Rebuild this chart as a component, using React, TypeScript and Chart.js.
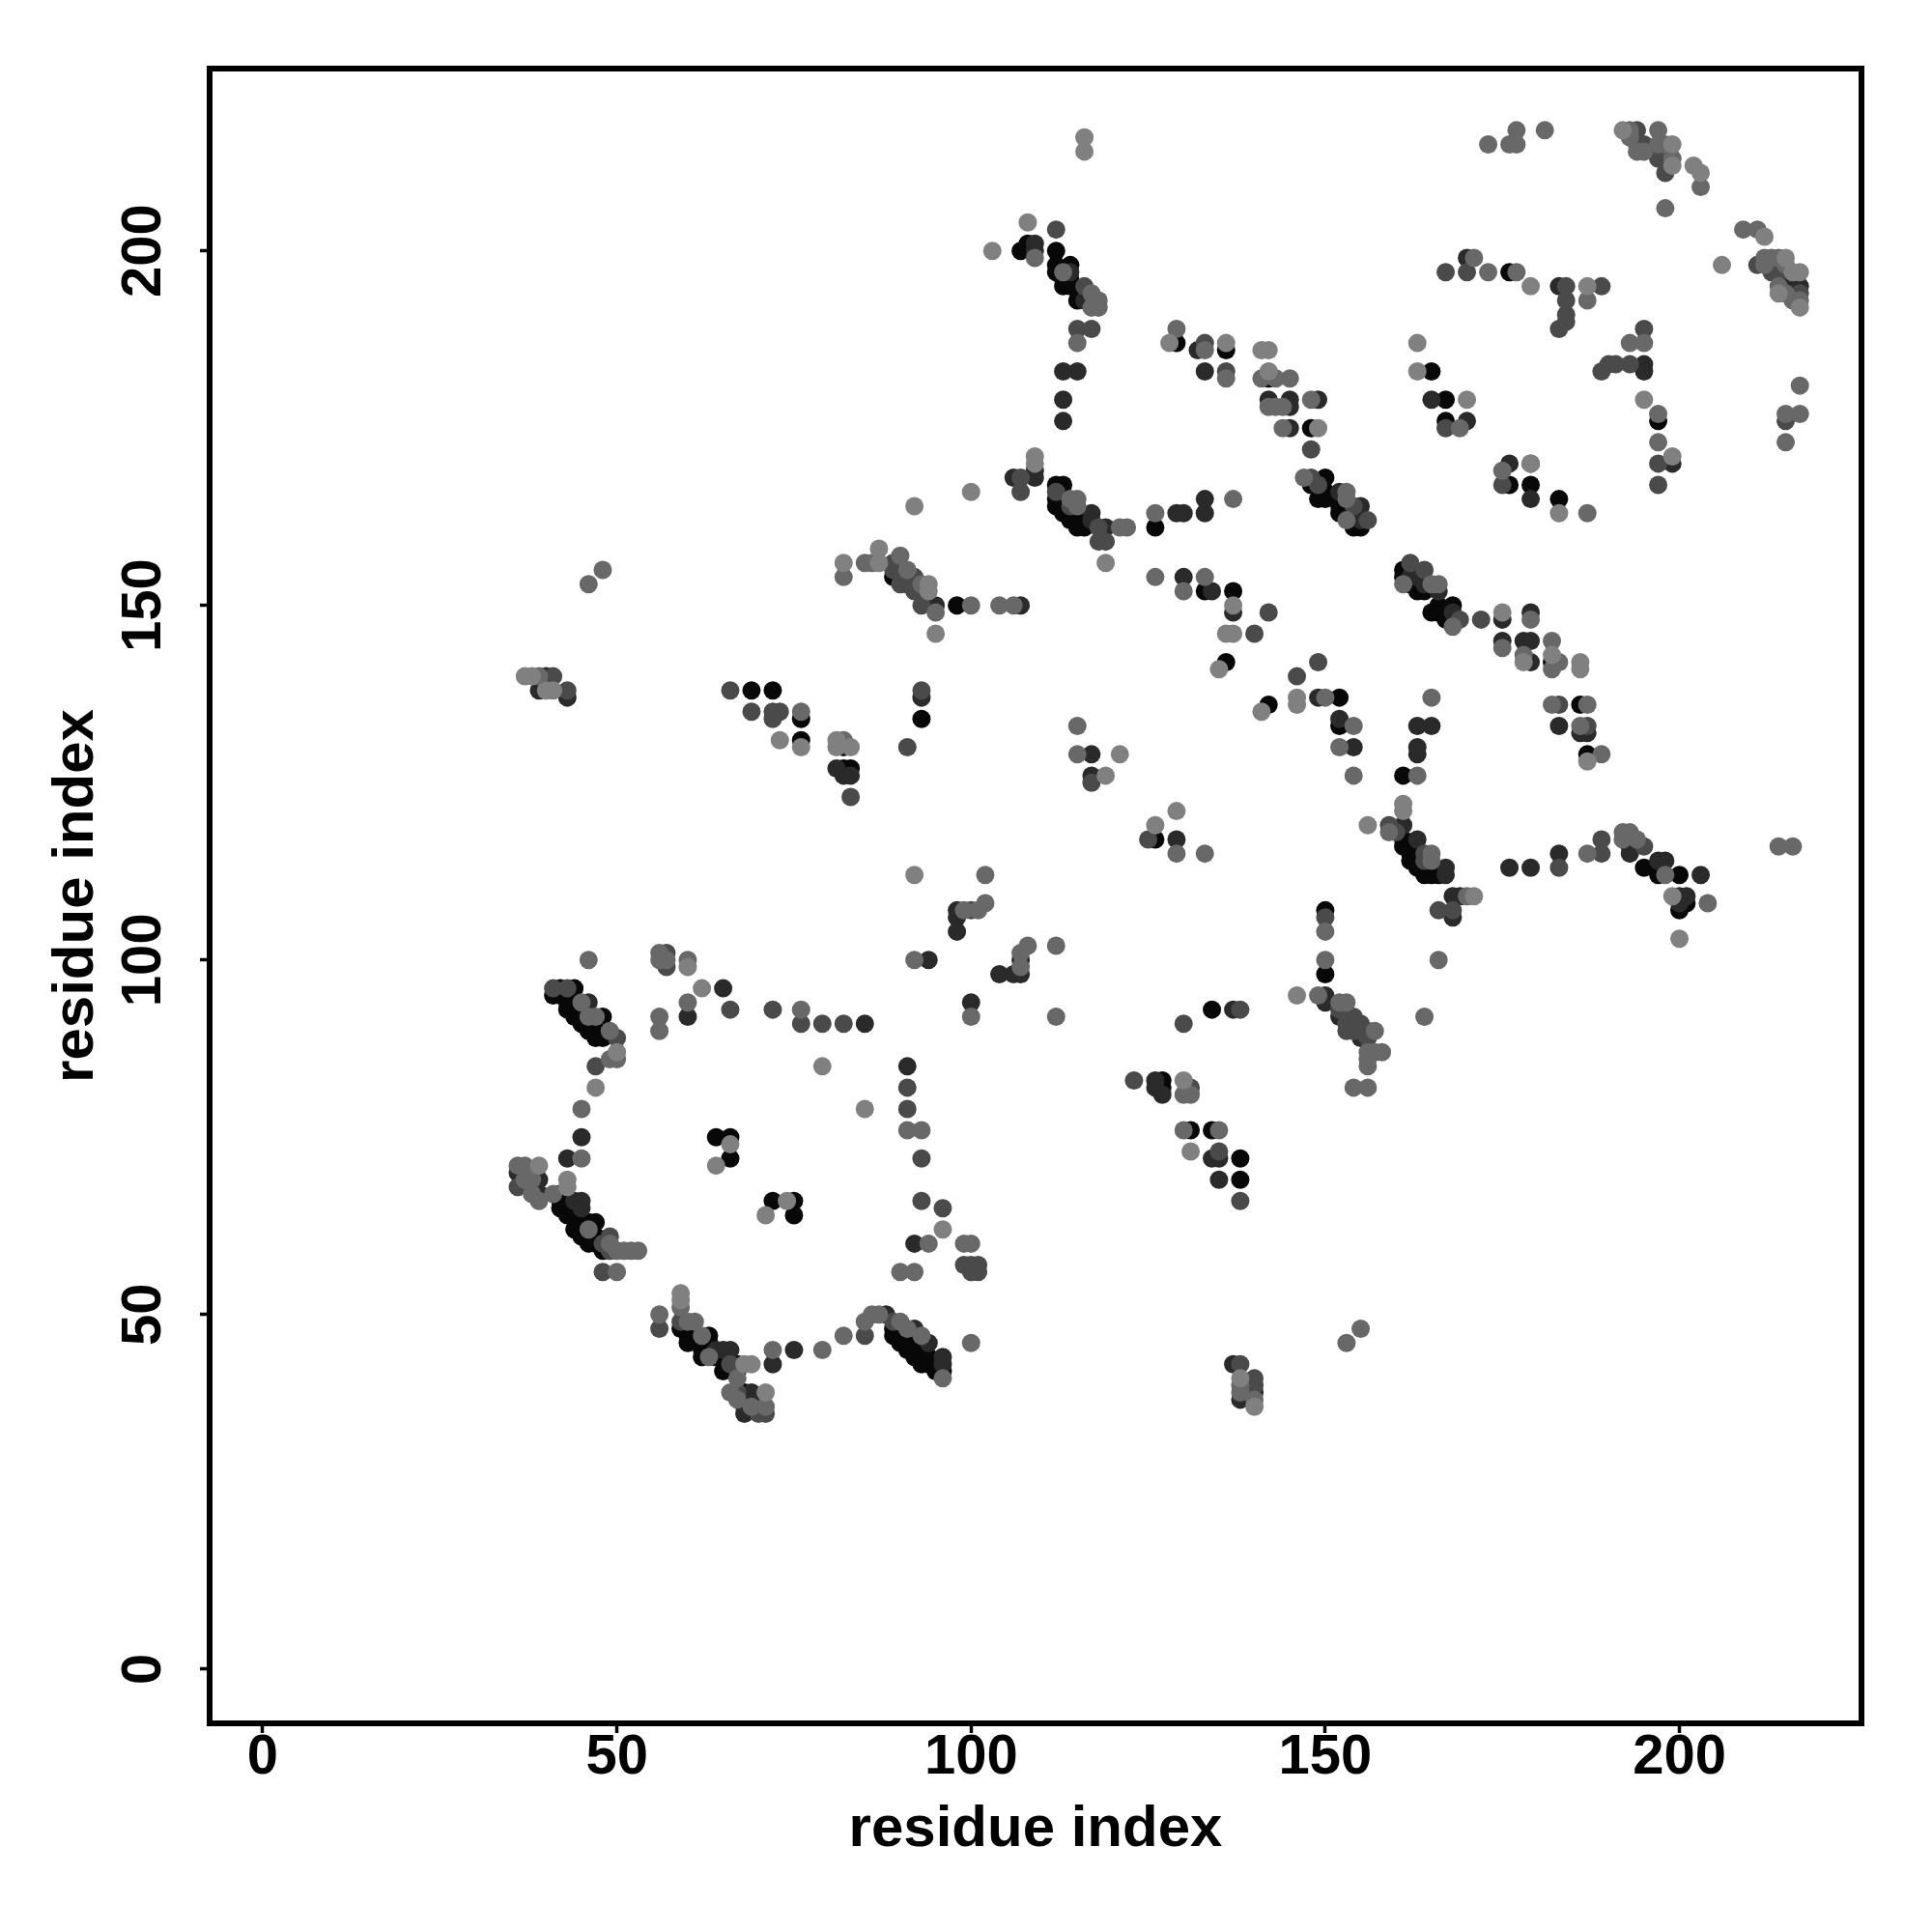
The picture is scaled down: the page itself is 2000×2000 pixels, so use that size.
import React, { useEffect, useRef } from "react";
import { Chart, registerables } from "chart.js";

Chart.register(...registerables);

type P = [number, number];

const tickValues = [0, 50, 100, 150, 200];
const axisTitle = "residue index";

const shadeLightest: P[] = [[39,71],[43,69],[43,68],[59,53],[59,52],[68,43],[69,43],[71,39],[64,71],[71,64],[74,66],[66,74],[85,79],[96,62],[50,87],[47,82],[62,96],[60,99],[79,85],[92,112],[146,95],[138,41],[140,37],[131,73],[130,83],[109,170],[109,171],[119,156],[136,146],[137,146],[135,141],[141,135],[146,137],[146,136],[137,150],[149,175],[121,129],[119,126],[129,121],[126,119],[100,166],[175,149],[178,142],[182,143],[186,142],[186,141],[187,128],[161,122],[161,121],[156,119],[171,109],[199,109],[200,103],[103,200],[108,204],[116,216],[116,214],[128,187],[136,187],[141,186],[142,186],[142,183],[163,187],[163,183],[170,179],[179,195],[187,195],[192,217],[199,215],[199,212],[202,212],[203,211],[212,202],[206,198],[215,199],[216,197],[217,197],[214,194],[217,192],[195,179],[199,171],[179,170],[183,163],[37,140],[38,140],[40,138],[41,138],[73,131],[76,130],[81,131],[81,130],[83,130],[82,156],[87,156],[87,158],[94,153],[94,152],[95,146],[92,164]];

const shadeLight: P[] = [[45,72],[36,71],[37,71],[38,69],[37,69],[41,67],[38,67],[39,66],[46,62],[50,59],[51,59],[52,59],[53,59],[49,60],[50,56],[59,51],[56,50],[61,49],[60,49],[62,47],[63,44],[72,45],[79,45],[67,41],[66,39],[67,38],[69,37],[71,37],[82,47],[85,49],[86,50],[87,50],[91,48],[93,47],[90,49],[96,41],[91,76],[93,76],[90,56],[92,56],[94,60],[99,60],[100,60],[46,100],[56,101],[56,100],[57,100],[60,100],[60,94],[56,92],[56,90],[76,93],[45,94],[47,92],[46,92],[49,90],[49,86],[50,86],[45,79],[92,100],[99,107],[100,92],[100,46],[102,112],[102,108],[101,107],[108,102],[107,101],[107,99],[112,102],[112,92],[131,81],[130,81],[130,76],[135,76],[149,95],[150,100],[150,104],[152,94],[153,94],[157,90],[156,87],[157,87],[158,87],[156,86],[156,85],[154,82],[156,82],[153,46],[155,48],[138,39],[138,40],[140,38],[114,165],[115,165],[115,164],[121,161],[122,161],[126,163],[137,165],[100,150],[104,150],[106,150],[126,154],[133,154],[130,152],[165,153],[166,153],[153,166],[153,165],[153,162],[147,168],[115,133],[115,129],[129,115],[133,115],[150,137],[154,133],[152,130],[154,126],[165,137],[163,126],[161,153],[168,147],[175,144],[178,143],[182,145],[182,141],[183,142],[179,148],[182,136],[186,133],[187,136],[189,129],[159,118],[165,115],[165,114],[170,109],[187,115],[192,118],[193,118],[192,117],[194,117],[198,112],[204,108],[109,199],[113,197],[117,194],[118,193],[118,192],[117,192],[115,187],[129,189],[133,186],[136,182],[141,182],[143,182],[145,182],[142,178],[143,178],[144,178],[144,175],[148,179],[177,217],[181,217],[173,215],[176,215],[177,215],[193,217],[193,216],[197,217],[194,214],[195,214],[197,215],[198,215],[199,213],[203,209],[198,206],[209,203],[211,203],[212,199],[213,199],[214,199],[212,198],[215,198],[214,195],[215,194],[216,193],[217,193],[217,181],[215,177],[217,177],[215,173],[171,199],[173,197],[177,197],[187,193],[193,187],[195,187],[197,177],[197,173],[169,175],[175,169],[187,163],[164,92],[166,100],[214,116],[216,116],[39,140],[76,135],[82,131],[85,156],[86,156],[90,157],[91,155],[93,153],[95,149],[82,154],[46,153],[48,155]];

const shadeMid: P[] = [[36,68],[48,56],[49,61],[49,59],[48,60],[59,49],[56,48],[66,43],[67,39],[70,36],[71,36],[85,47],[89,49],[93,72],[93,66],[96,65],[91,79],[91,82],[83,123],[41,96],[43,96],[57,101],[57,99],[66,93],[72,93],[76,91],[79,91],[82,91],[50,89],[47,85],[99,57],[100,57],[101,57],[100,56],[101,56],[100,107],[123,83],[130,91],[138,93],[131,82],[135,73],[138,66],[138,43],[140,41],[140,40],[150,106],[152,93],[153,91],[154,92],[155,91],[154,90],[155,90],[156,90],[156,89],[153,90],[112,166],[114,164],[118,161],[118,159],[119,159],[107,168],[107,166],[142,149],[140,146],[149,142],[146,140],[117,125],[125,117],[148,168],[149,167],[154,164],[156,162],[162,156],[164,155],[169,148],[172,148],[183,136],[187,133],[159,119],[160,118],[164,115],[164,114],[168,107],[166,107],[183,113],[189,117],[189,115],[195,116],[112,203],[116,195],[115,189],[117,189],[133,187],[136,183],[148,172],[167,175],[167,197],[194,215],[195,215],[197,213],[198,213],[198,211],[194,217],[211,198],[213,197],[214,197],[217,194],[215,176],[170,197],[184,195],[184,193],[184,191],[184,190],[183,189],[189,195],[195,189],[189,183],[190,184],[191,184],[193,184],[197,170],[197,167],[175,167],[66,138],[69,135],[72,135],[73,135],[72,134],[93,138],[91,130],[89,156],[89,155],[90,153],[91,153],[92,154],[92,152],[93,150],[41,140],[43,138]];

const shadeDark: P[] = [[43,72],[45,75],[36,70],[37,70],[39,69],[39,67],[44,66],[45,66],[45,65],[64,45],[65,45],[66,45],[69,39],[68,38],[68,37],[68,36],[70,37],[72,43],[75,45],[88,50],[92,48],[94,46],[96,44],[96,43],[91,85],[92,60],[65,96],[85,91],[46,94],[60,92],[98,107],[98,106],[98,104],[94,100],[100,94],[104,98],[106,98],[107,98],[107,100],[107,150],[126,83],[126,82],[127,81],[137,93],[137,43],[134,72],[135,72],[135,69],[138,38],[140,39],[150,95],[150,94],[152,92],[155,89],[109,168],[109,169],[106,168],[117,163],[117,162],[119,161],[129,163],[130,163],[133,165],[133,163],[130,154],[134,152],[137,149],[149,137],[152,134],[154,130],[163,133],[165,133],[163,130],[163,129],[117,129],[117,126],[129,117],[152,166],[155,164],[155,162],[162,154],[163,154],[164,153],[166,152],[168,149],[175,148],[179,149],[175,145],[178,145],[179,145],[179,142],[183,133],[186,132],[187,132],[161,119],[163,117],[167,113],[167,112],[168,109],[169,109],[168,106],[176,113],[179,113],[183,115],[197,114],[198,114],[203,112],[200,109],[201,109],[200,108],[193,115],[109,201],[109,200],[114,197],[116,193],[113,183],[115,183],[113,179],[113,176],[132,186],[133,183],[142,179],[145,179],[145,178],[149,179],[145,175],[165,179],[170,199],[183,195],[195,184],[195,183],[170,176],[176,170],[179,170],[179,165],[199,170],[215,195],[216,195],[217,195],[40,140],[39,138],[43,137],[81,127],[82,126],[83,126],[93,137],[95,150]];

const shadeBlack: P[] = [[42,67],[42,65],[42,66],[43,66],[44,65],[43,64],[44,64],[44,62],[45,63],[47,63],[46,63],[46,60],[45,61],[47,61],[47,60],[48,59],[59,48],[60,47],[60,46],[63,47],[63,46],[62,45],[62,44],[64,44],[65,44],[65,42],[67,43],[67,42],[68,39],[89,47],[89,48],[91,45],[90,46],[90,47],[91,46],[92,45],[92,44],[93,44],[93,43],[94,44],[94,43],[95,42],[95,43],[96,42],[64,75],[66,75],[66,72],[72,66],[75,66],[75,64],[42,96],[44,96],[41,95],[42,95],[43,93],[43,94],[45,91],[44,92],[47,89],[46,90],[48,89],[48,92],[44,93],[45,92],[46,91],[47,90],[127,83],[127,82],[134,93],[138,72],[138,69],[131,76],[134,76],[150,98],[150,107],[112,167],[112,165],[112,164],[113,167],[113,163],[114,162],[116,161],[115,162],[115,161],[126,161],[133,152],[137,152],[152,137],[152,133],[161,126],[126,117],[142,136],[136,142],[150,168],[148,167],[150,166],[149,165],[150,165],[152,164],[152,163],[154,163],[154,161],[155,161],[161,155],[161,154],[162,153],[163,152],[164,152],[165,149],[166,150],[166,149],[167,149],[168,150],[167,148],[162,116],[161,116],[161,117],[162,115],[162,114],[163,115],[163,114],[163,113],[164,113],[164,112],[165,112],[166,112],[186,136],[182,142],[187,129],[193,116],[195,113],[197,112],[200,112],[201,108],[200,107],[107,200],[108,201],[112,200],[112,198],[112,197],[114,198],[113,195],[114,195],[115,193],[113,196],[114,196],[129,187],[136,186],[142,182],[167,179],[167,176],[148,175],[165,183],[176,197],[197,176],[176,167],[179,167],[183,165],[69,138],[72,138],[76,134],[76,131],[82,130],[82,127],[83,127],[98,150],[93,134],[89,154]];

const toPoints = (list: P[]) => list.map(([x, y]) => ({ x, y }));

const frame = {
  id: "frame",
  afterDraw(chart: any) {
    const { ctx, chartArea: a } = chart;
    ctx.save();
    ctx.strokeStyle = "#000";
    ctx.lineWidth = 6;
    ctx.strokeRect(a.left, a.top, a.right - a.left, a.bottom - a.top);
    ctx.restore();
  },
};

export default function App() {
  const ref = useRef<HTMLCanvasElement>(null);
  useEffect(() => {
    const mk = (data: P[], color: string) => ({
      data: toPoints(data),
      backgroundColor: color,
      borderWidth: 0,
      pointRadius: 9.5,
      pointHoverRadius: 9.5,
      showLine: false,
    });
    const font = { family: "Liberation Sans", weight: "bold" as const, size: 58, lineHeight: 1 };
    const common = {
      type: "linear" as const,
      afterBuildTicks: (s: any) => {
        s.ticks = tickValues.map((value) => ({ value }));
      },
      grid: { drawOnChartArea: false, drawTicks: true, tickLength: 10, tickWidth: 3.5, tickColor: "#000" },
      border: { display: false },
    };
    const chart = new Chart(ref.current!, {
      type: "scatter",
      data: {
        datasets: [
          mk(shadeLightest, "#808080"),
          mk(shadeLight, "#686868"),
          mk(shadeMid, "#4a4a4a"),
          mk(shadeDark, "#2a2a2a"),
          mk(shadeBlack, "#080808"),
        ],
      },
      options: {
        animation: false,
        responsive: false,
        layout: { padding: { top: 71, right: 73, left: 0, bottom: 0 } },
        plugins: { legend: { display: false }, tooltip: { enabled: false } },
        scales: {
          x: {
            ...common,
            min: -7.5,
            max: 225.7,
            afterFit: (s: any) => {
              s.height = 216;
            },
            ticks: { color: "#000", font, padding: -3, maxRotation: 0, minRotation: 0, autoSkip: false },
            title: {
              display: true,
              text: axisTitle,
              color: "#000",
              font: { ...font, size: 60 },
              padding: { top: 0, bottom: 76 },
            },
          },
          y: {
            ...common,
            min: -7.65,
            max: 225.7,
            afterFit: (s: any) => {
              s.width = 217;
            },
            ticks: { color: "#000", font, padding: 9, minRotation: 90, maxRotation: 90, crossAlign: "center", autoSkip: false },
            title: {
              display: true,
              text: axisTitle,
              color: "#000",
              font: { ...font, size: 60 },
              padding: { top: 49, bottom: 0 },
            },
          },
        },
      },
      plugins: [frame],
    } as any);
    return () => chart.destroy();
  }, []);
  return (
    <canvas
      ref={ref}
      width={2000}
      height={2000}
      style={{ position: "absolute", left: 0, top: 0, width: 2000, height: 2000, background: "#fff" }}
    />
  );
}
